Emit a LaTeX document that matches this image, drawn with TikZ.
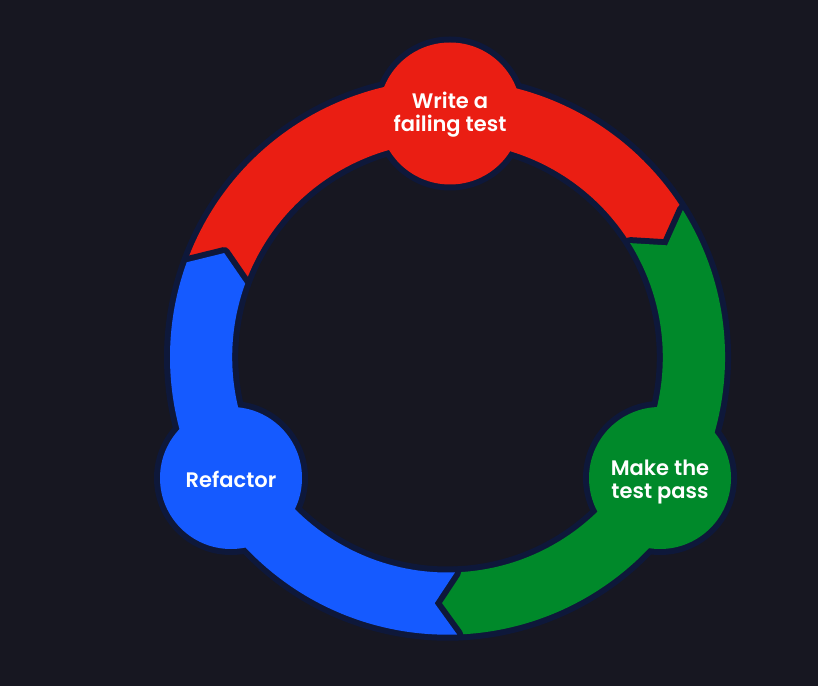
\documentclass[tikz,border=0pt]{standalone}
\usepackage{fontspec}
\setmainfont{Poppins}
\newfontfamily\labfont{Poppins SemiBold}
\definecolor{bgc}{RGB}{23,23,33}
\definecolor{edgec}{RGB}{14,24,58}
\definecolor{redc}{RGB}{234,30,19}
\definecolor{greenc}{RGB}{0,137,42}
\definecolor{bluec}{RGB}{21,90,255}
\newcommand\Ro{277.5}
\newcommand\Ri{215.3}
\newcommand\Rm{246.4}
% #1 start angle, #2 notch apex, #3 end angle, #4 point apex
\newcommand\ringseg[4]{([shift={(O)}]#1:\Ro) arc[start angle=#1, end angle=#3, radius=\Ro]
  -- ([shift={(O)}]#4:\Rm) -- ([shift={(O)}]#3:\Ri)
  arc[start angle=#3, end angle=#1, radius=\Ri]
  -- ([shift={(O)}]#2:\Rm) -- cycle}
\tikzset{
  outline/.style={draw=edgec, line width=12pt, line join=round},
  lab/.style={text=white, align=center, font=\labfont\fontsize{21}{23}\selectfont, inner sep=0pt}
}
\begin{document}
\begin{tikzpicture}[x=1pt,y=1pt]
\fill[bgc] (0,0) rectangle (818,686);
\useasboundingbox (0,0) rectangle (818,686);
\coordinate (O) at (447.5,328.8);
\coordinate (cW) at (450,572.5);
\coordinate (cM) at (660,208);
\coordinate (cR) at (231,208);
% red group
\path[outline] \ringseg{160}{155}{32}{27};
\path[outline] (cW) circle[radius=71];
\fill[redc] \ringseg{160}{155}{32}{27};
\fill[redc] (cW) circle[radius=71];
% green group
\path[outline] \ringseg{32}{27}{-88}{-93};
\path[outline] (cM) circle[radius=71];
\fill[greenc] \ringseg{32}{27}{-88}{-93};
\fill[greenc] (cM) circle[radius=71];
% blue group
\path[outline] \ringseg{272}{267}{160}{155};
\path[outline] (cR) circle[radius=71];
\fill[bluec] \ringseg{272}{267}{160}{155};
\fill[bluec] (cR) circle[radius=71];
% labels
\node[lab] (write) at ([yshift=-1pt]cW) {Write a\\failing test};
\node[lab] (make) at ([yshift=-4pt]cM) {Make the\\test pass};
\node[lab] (refactor) at ([yshift=-1pt]cR) {Refactor};
\end{tikzpicture}
\end{document}
